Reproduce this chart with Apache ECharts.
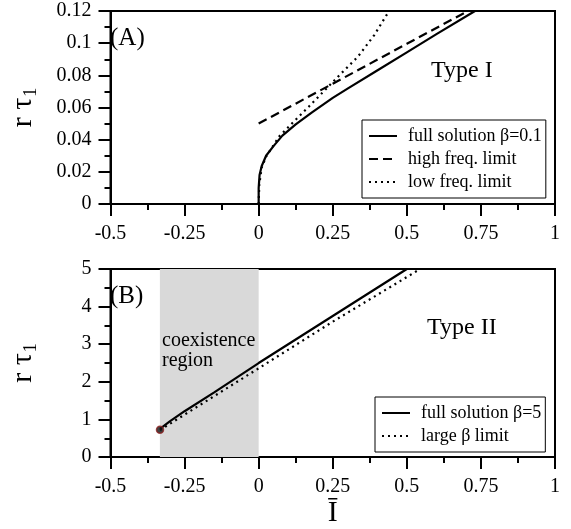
<!DOCTYPE html>
<html><head><meta charset="utf-8">
<script src="https://cdn.jsdelivr.net/npm/echarts@6/dist/echarts.min.js"></script>
<style>html,body{margin:0;padding:0;background:#fff}#c{width:571px;height:529px}</style>
</head><body><div id="c"></div>
<script>
// ---- data ----
const fullA_I = [0, 0, 0.003, 0.01, 0.025, 0.05, 0.08, 0.125, 0.18, 0.25, 0.3, 0.4, 0.5, 0.6, 0.73];
const fullA_r = [0, 0.010, 0.018, 0.0235, 0.030, 0.036, 0.0425, 0.0495, 0.057, 0.066, 0.0717, 0.083, 0.0943, 0.1056, 0.12];
const highA_I = [0, 0.25, 0.5, 0.706];
const highA_r = [0.05, 0.0748, 0.0996, 0.12];
const lowA_I = [0, 0.002, 0.01, 0.025, 0.05, 0.069, 0.113, 0.169, 0.224, 0.279, 0.335, 0.39, 0.44];
const lowA_r = [0, 0.012, 0.0225, 0.0295, 0.0365, 0.0419, 0.0502, 0.0605, 0.0709, 0.0813, 0.0916, 0.105, 0.12];
const fullB_I = [-0.333, -0.3, -0.25, -0.15, 0, 0.25, 0.5];
const fullB_r = [0.75, 0.95, 1.22, 1.72, 2.5, 3.75, 5.0];
const largeB_I = [-0.333, 0, 0.25, 0.545];
const largeB_r = [0.72, 2.36, 3.6, 5.0];
const bifPoint = [-0.333, 0.73];
const coexRegion = [-1/3, 0];
const xRange = [-0.5, 1, 0.25];
const yRangeA = [0, 0.12, 0.02];
const yRangeB = [0, 5, 1];
const namesA = ['full solution \u03b2=0.1', 'high freq. limit', 'low freq. limit'];
const namesB = ['full solution \u03b2=5', 'large \u03b2 limit'];

const FONT = 'Liberation Serif';
const zip = (a, b) => a.map((v, i) => [v, b[i]]);

function xAxisCfg(idx, name) {
  return {
    type: 'value', gridIndex: idx, min: xRange[0], max: xRange[1], interval: xRange[2],
    axisLine: {show: true, onZero: false, lineStyle: {color: '#000', width: 2}},
    axisTick: {show: true, length: 12, lineStyle: {color: '#000', width: 2}},
    minorTick: {show: true, splitNumber: 2, length: 6, lineStyle: {color: '#000', width: 2}},
    splitLine: {show: false}, minorSplitLine: {show: false},
    axisLabel: {color: '#000', fontFamily: FONT, fontSize: 20, margin: 20},
    name: name, nameLocation: 'middle', nameGap: 23,
    nameTextStyle: {color: '#000', fontFamily: FONT, fontSize: 30}
  };
}
function yAxisCfg(idx, r) {
  return {
    type: 'value', gridIndex: idx, min: r[0], max: r[1], interval: r[2],
    axisLine: {show: true, onZero: false, lineStyle: {color: '#000', width: 2}},
    axisTick: {show: true, length: 12, lineStyle: {color: '#000', width: 2}},
    minorTick: {show: true, splitNumber: 2, length: 6, lineStyle: {color: '#000', width: 2}},
    splitLine: {show: false}, minorSplitLine: {show: false},
    axisLabel: {color: '#000', fontFamily: FONT, fontSize: 20, margin: 19},
    name: '{a|r \u03c4}{b|1}', nameLocation: 'middle', nameRotate: 90, nameGap: 70,
    nameTextStyle: {
      color: '#000', fontFamily: FONT,
      rich: {
        a: {fontFamily: FONT, fontSize: 30, color: '#000'},
        b: {fontFamily: FONT, fontSize: 18, color: '#000', padding: [17, 0, 0, 1]}
      }
    }
  };
}
function lineSeries(name, xi, yi, data, type) {
  return {
    name: name, type: 'line', xAxisIndex: xi, yAxisIndex: yi, data: data,
    symbol: 'none', smooth: false, z: 3,
    lineStyle: {color: '#000', width: 2.2, type: type},
    itemStyle: {color: '#000'}
  };
}
function legendCfg(names, left, top) {
  return {
    data: names, orient: 'vertical', left: left, top: top,
    itemWidth: 28, itemHeight: 18, itemGap: 5,
    padding: [7, 4, 7, 6],
    backgroundColor: '#fff', borderColor: '#000', borderWidth: 1, borderRadius: 0,
    selectedMode: false,
    itemStyle: {color: 'rgba(0,0,0,0)', borderWidth: 0, opacity: 0},
    textStyle: {color: '#000', fontFamily: FONT, fontSize: 18, padding: [0, 0, 0, 6]}
  };
}
function txt(t, x, y, size) {
  return {type: 'text', x: x, y: y, z: 10,
    style: {text: t, fontFamily: FONT, fontSize: size, fill: '#000', textAlign: 'left', textVerticalAlign: 'middle'}};
}

const option = {
  backgroundColor: '#fff',
  animation: false,
  grid: [
    {left: 104, top: 11, right: 16, height: 193, show: true, borderColor: '#000', borderWidth: 2, backgroundColor: 'transparent'},
    {left: 104, top: 269, right: 16, height: 193, show: true, borderColor: '#000', borderWidth: 2, backgroundColor: 'transparent'}
  ],
  xAxis: [xAxisCfg(0, ''), xAxisCfg(1, '\u012a')],
  yAxis: [yAxisCfg(0, yRangeA), yAxisCfg(1, yRangeB)],
  legend: [legendCfg(namesA, 362, 120), legendCfg(namesB, 375, 397)],
  series: [
    {type: 'line', xAxisIndex: 1, yAxisIndex: 1, data: [], z: 1, silent: true,
     markArea: {silent: true, itemStyle: {color: '#d9d9d9'},
       data: [[{xAxis: coexRegion[0]}, {xAxis: coexRegion[1]}]]}},
    lineSeries(namesA[0], 0, 0, zip(fullA_I, fullA_r), 'solid'),
    lineSeries(namesA[1], 0, 0, zip(highA_I, highA_r), [9, 5]),
    lineSeries(namesA[2], 0, 0, zip(lowA_I, lowA_r), [2, 4]),
    lineSeries(namesB[0], 1, 1, zip(fullB_I, fullB_r), 'solid'),
    lineSeries(namesB[1], 1, 1, zip(largeB_I, largeB_r), [2, 4]),
    {type: 'scatter', xAxisIndex: 1, yAxisIndex: 1, data: [bifPoint], symbolSize: 7, z: 5,
     itemStyle: {color: '#111', borderColor: '#8b2020', borderWidth: 1.5}}
  ],
  graphic: [
    txt('(A)', 110, 38, 25),
    txt('Type I', 431, 71, 24),
    txt('(B)', 110, 296, 25),
    txt('Type II', 427, 328, 24),
    txt('coexistence', 162, 341, 20),
    txt('region', 162, 361, 20)
  ]
};
const chart = echarts.init(document.getElementById('c'), null, {renderer: 'canvas'});
chart.setOption(option);
</script></body></html>
